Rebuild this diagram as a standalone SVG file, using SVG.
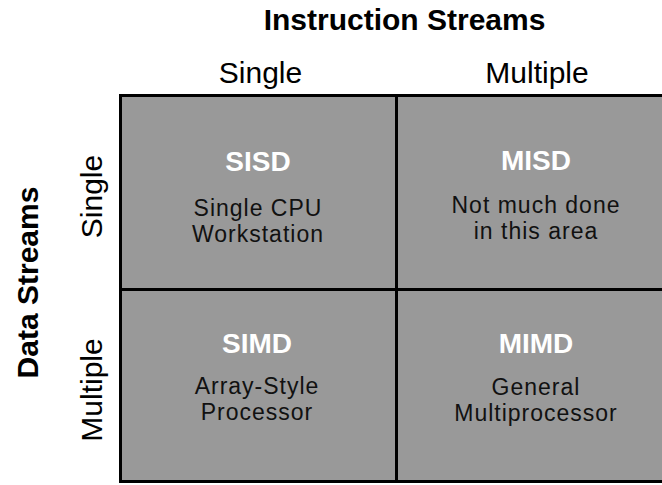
<svg xmlns="http://www.w3.org/2000/svg" width="662" height="485" viewBox="0 0 662 485">
<style>
  text { font-family: "Liberation Sans", Arial, sans-serif; text-anchor: middle; }
  .hdr { font-size: 30px; font-weight: bold; fill: #000; }
  .axis { font-size: 30px; fill: #000; }
  .cell { fill: #999999; }
  .ttl { font-size: 28px; font-weight: bold; fill: #ffffff; }
  .body { font-size: 23px; letter-spacing: 1px; fill: #111111; }
  .grid { stroke: #000; stroke-width: 3; fill: none; }
</style>
<rect width="662" height="485" fill="#ffffff"/>

<g id="headers">
  <text class="hdr" x="404.5" y="29.5">Instruction Streams</text>
  <text class="axis" x="260.5" y="83">Single</text>
  <text class="axis" x="537" y="83">Multiple</text>
  <text class="hdr" transform="translate(38,282.5) rotate(-90)">Data Streams</text>
  <text class="axis" transform="translate(102,196.5) rotate(-90)">Single</text>
  <text class="axis" transform="translate(102,390) rotate(-90)">Multiple</text>
</g>

<g id="sisd">
  <rect class="cell" x="120.5" y="95.5" width="276" height="194"/>
  <text class="ttl" x="258" y="171">SISD</text>
  <text class="body" x="258" y="216">Single CPU</text>
  <text class="body" x="258" y="242">Workstation</text>
</g>

<g id="misd">
  <rect class="cell" x="396.5" y="95.5" width="280" height="194"/>
  <text class="ttl" x="536" y="169.5">MISD</text>
  <text class="body" x="536" y="213">Not much done</text>
  <text class="body" x="536" y="239">in this area</text>
</g>

<g id="simd">
  <rect class="cell" x="120.5" y="289.5" width="276" height="192"/>
  <text class="ttl" x="257" y="352.5">SIMD</text>
  <text class="body" x="257" y="394">Array-Style</text>
  <text class="body" x="257" y="420">Processor</text>
</g>

<g id="mimd">
  <rect class="cell" x="396.5" y="289.5" width="280" height="192"/>
  <text class="ttl" x="536" y="352.5">MIMD</text>
  <text class="body" x="536" y="395">General</text>
  <text class="body" x="536" y="421">Multiprocessor</text>
</g>

<g id="connectors">
  <rect class="grid" x="120.5" y="95.5" width="552" height="386"/>
  <line class="grid" x1="396.5" y1="95.5" x2="396.5" y2="481.5"/>
  <line class="grid" x1="120.5" y1="289.5" x2="672.5" y2="289.5"/>
</g>
</svg>
